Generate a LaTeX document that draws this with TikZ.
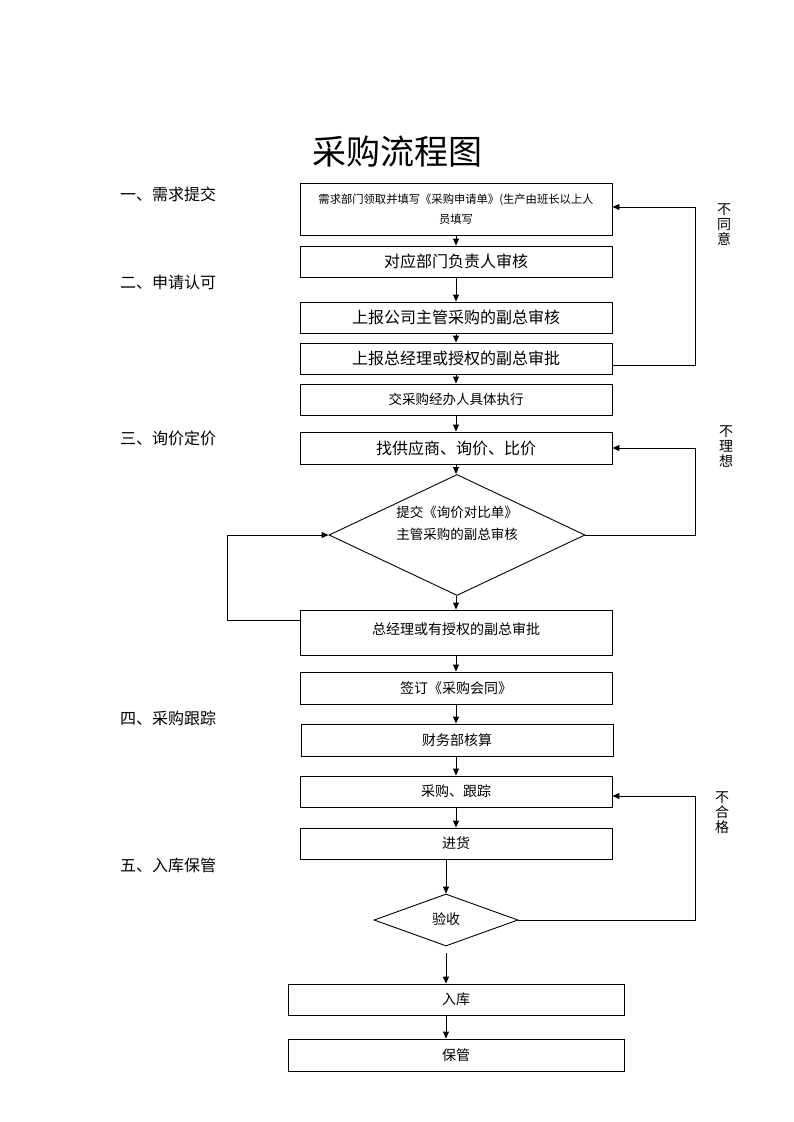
\documentclass[tikz,border=0pt]{standalone}
\usepackage{fontspec}
\setmainfont{Noto Sans CJK SC}
\usetikzlibrary{shapes.geometric,arrows.meta}
\tikzset{
  box/.style={draw,rectangle,minimum width=312pt,minimum height=31pt,inner sep=0pt,line width=0.9pt,align=center},
  dia/.style={draw,diamond,inner sep=0pt,line width=0.9pt,align=center},
  arr/.style={line width=0.9pt,-{Triangle[length=7pt,width=6pt]}},
  sec/.style={anchor=west,inner sep=0pt,font=\fontsize{16}{18}\selectfont},
  vlab/.style={align=center,inner sep=0pt,font=\fontsize{14}{15}\selectfont}
}
\begin{document}
\begin{tikzpicture}[x=1pt,y=-1pt]
\useasboundingbox (0,0) rectangle (793,1122);
\fill[white] (0,0) rectangle (793,1122);
% title
\node[inner sep=0pt,font=\fontsize{34}{36}\selectfont] (title) at (397,152) {采购流程图};
% section labels
\node[sec] (s1) at (120,194) {一、需求提交};
\node[sec] (s2) at (120,282) {二、申请认可};
\node[sec] (s3) at (120,438) {三、询价定价};
\node[sec] (s4) at (120,718) {四、采购跟踪};
\node[sec] (s5) at (120,865) {五、入库保管};
% boxes
\node[box,minimum height=52pt,font=\fontsize{11.3}{20}\selectfont] (b1) at (456,209) {需求部门领取并填写《采购申请单》(生产由班长以上人\\员填写};
\node[box,font=\fontsize{16}{18}\selectfont] (b2) at (456,261.5) {对应部门负责人审核};
\node[box,font=\fontsize{16}{18}\selectfont] (b3) at (456,317.5) {上报公司主管采购的副总审核};
\node[box,font=\fontsize{16}{18}\selectfont] (b4) at (456,358.5) {上报总经理或授权的副总审批};
\node[box,font=\fontsize{13.5}{16}\selectfont] (b5) at (456,399.5) {交采购经办人具体执行};
\node[box,minimum height=32pt,font=\fontsize{16}{18}\selectfont] (b6) at (456,448) {找供应商、询价、比价};
\node[dia,shape aspect=2.1,minimum width=256pt,minimum height=121pt,font=\fontsize{13.5}{22}\selectfont] (d1) at (457,535) {提交《询价对比单》\\主管采购的副总审核\\[2pt]};
\node[box,minimum height=45pt,font=\fontsize{14}{16}\selectfont] (b8) at (456,632.5) {\raisebox{8pt}{总经理或有授权的副总审批}};
\node[box,minimum height=32pt,font=\fontsize{14}{16}\selectfont] (b9) at (456,688) {签订《采购会同》};
\node[box,minimum height=32pt,font=\fontsize{14}{16}\selectfont] (b10) at (457,740) {财务部核算};
\node[box,font=\fontsize{14}{16}\selectfont] (b11) at (456,791.5) {采购、跟踪};
\node[box,font=\fontsize{14}{16}\selectfont] (b12) at (456,843.5) {进货};
\node[dia,shape aspect=2.8,minimum width=144pt,minimum height=52pt,font=\fontsize{14}{16}\selectfont] (d2) at (446,920) {\raisebox{3pt}{验收}};
\node[box,minimum width=336pt,font=\fontsize{14}{16}\selectfont] (b14) at (456,999.5) {入库};
\node[box,minimum width=336pt,minimum height=32pt,font=\fontsize{14}{16}\selectfont] (b15) at (456,1055) {保管};
% vertical labels
\node[vlab] (v1) at (724,225) {不\\同\\意};
\node[vlab] (v2) at (726,447) {不\\理\\想};
\node[vlab] (v3) at (722,813) {不\\合\\格};
% main arrows
\draw[arr] (b1) -- (b2);
\draw[arr] (b2) -- (b3);
\draw[arr] (b3) -- (b4);
\draw[arr] (b4) -- (b5);
\draw[arr] (b5) -- (b6);
\draw[arr] (b6.south) -- (b6.south |- d1.north);
\draw[arr] (d1.south -| b8.north) -- (b8.north);
\draw[arr] (b8) -- (b9);
\draw[arr] (b9.south) -- (b9.south |- b10.north);
\draw[arr] (b10.south -| b11.north) -- (b11.north);
\draw[arr] (b11) -- (b12);
\draw[arr] (d2.north |- b12.south) -- (d2.north);
\coordinate (g1) at ([yshift=-7pt]d2.south);
\draw[arr] (g1) -- (g1 |- b14.north);
\draw[arr] (d2.south |- b14.south) -- (d2.south |- b15.north);
% feedback loops
\coordinate (fs1) at ([yshift=-7pt]b4.east);
\coordinate (fe1) at ([yshift=2pt]b1.east);
\draw[arr] (fs1) -- ++(83,0) |- (fe1);
\draw[arr] (d1.east) -- ++(110,0) |- (b6.east);
\coordinate (fe3) at ([yshift=-4.5pt]b11.east);
\draw[arr] (d2.east) -- ++(177,0) |- (fe3);
\coordinate (fs4) at ([yshift=12pt]b8.west);
\draw[arr] (fs4) -- ++(-72,0) |- (d1.west);
\end{tikzpicture}
\end{document}
